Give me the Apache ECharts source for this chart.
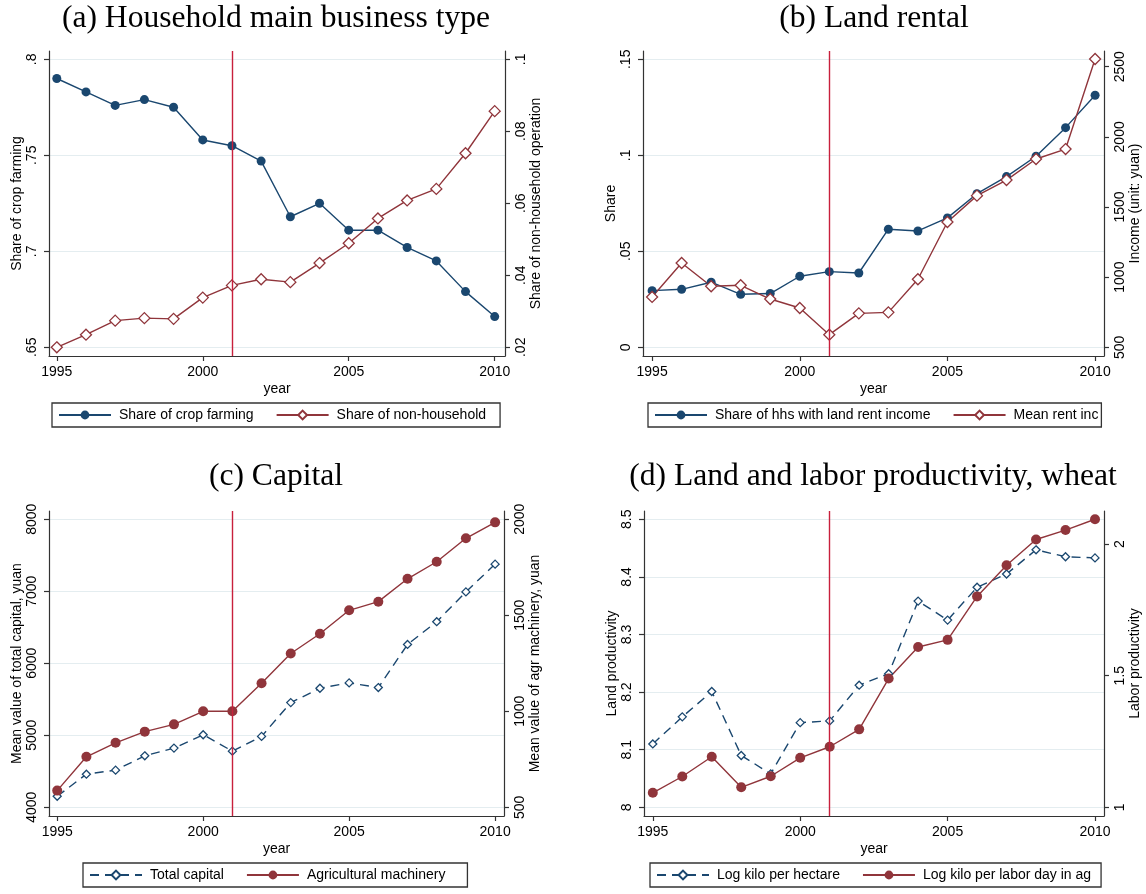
<!DOCTYPE html>
<html>
<head>
<meta charset="utf-8">
<script src="https://cdn.jsdelivr.net/npm/echarts@6/dist/echarts.min.js"></script>
<style>
  html, body { margin: 0; padding: 0; background: #fff; }
  #chart { width: 1146px; height: 894px; }
</style>
</head>
<body>
<div id="chart"></div>
<script>
// ---- data -------------------------------------------------------------
const years = [1995, 1996, 1997, 1998, 1999, 2000, 2001, 2002, 2003, 2004, 2005, 2006, 2007, 2008, 2009, 2010];
const yearTicks = [1995, 2000, 2005, 2010];
const reformYear = 2001;

// (a) household main business type
const cropFarmingShare = [0.790, 0.783, 0.776, 0.779, 0.775, 0.758, 0.755, 0.747, 0.718, 0.725, 0.711, 0.711, 0.702, 0.695, 0.679, 0.666];
const nonHouseholdShare = [0.0200, 0.0235, 0.0274, 0.0281, 0.0279, 0.0338, 0.0372, 0.0389, 0.0381, 0.0434, 0.0489, 0.0558, 0.0608, 0.0640, 0.0739, 0.0856];
const ticksCropShare = [0.65, 0.7, 0.75, 0.8];
const ticksNonHousehold = [0.02, 0.04, 0.06, 0.08, 0.1];

// (b) land rental
const landRentShare = [0.0295, 0.0302, 0.0339, 0.0276, 0.0280, 0.0370, 0.0394, 0.0387, 0.0615, 0.0606, 0.0674, 0.0800, 0.0889, 0.0995, 0.1144, 0.1313];
const meanRentIncome = [859, 1101, 935, 942, 844, 780, 590, 742, 749, 985, 1393, 1581, 1692, 1842, 1913, 2555];
const ticksRentShare = [0, 0.05, 0.1, 0.15];
const ticksRentIncome = [500, 1000, 1500, 2000, 2500];

// (c) capital
const totalCapital = [4153, 4460, 4516, 4715, 4822, 5008, 4780, 4985, 5454, 5654, 5728, 5663, 6262, 6578, 6992, 7377];
const agrMachinery = [587, 763, 836, 894, 932, 1000, 1000, 1146, 1301, 1404, 1526, 1571, 1690, 1779, 1901, 1984];
const ticksCapital = [4000, 5000, 6000, 7000, 8000];
const ticksMachinery = [500, 1000, 1500, 2000];

// (d) land and labor productivity, wheat
const logKiloPerHectare = [8.110, 8.157, 8.201, 8.090, 8.058, 8.147, 8.150, 8.212, 8.232, 8.358, 8.325, 8.382, 8.405, 8.447, 8.435, 8.433];
const logKiloPerLaborDay = [1.055, 1.117, 1.192, 1.076, 1.118, 1.188, 1.230, 1.296, 1.489, 1.609, 1.636, 1.801, 1.919, 2.017, 2.053, 2.094];
const ticksLandProd = [8, 8.1, 8.2, 8.3, 8.4, 8.5];
const ticksLaborProd = [1, 1.5, 2];

// ---- styling ----------------------------------------------------------
const NAVY = '#1a476f';
const MAROON = '#90353b';
const REFORM_RED = '#c8203c';
const GRID_LINE = '#e4edf0';
const AXIS = '#333333';
const SANS = '"Liberation Sans", Arial, sans-serif';
const SERIF = '"Liberation Serif", "Times New Roman", serif';

function pairs(ys) { return years.map((yr, i) => [yr, ys[i]]); }
function fmt(v) {
  const s = String(+Number(v).toFixed(4));
  return s.replace(/^0\./, '.').replace(/^-0\./, '-.');
}
// extend an axis range beyond its first/last tick so the ticks sit inside the frame
function padRange(lo, hi, padLoPx, padHiPx, spanPx) {
  const u = (hi - lo) / spanPx;
  return [lo - padLoPx * u, hi + padHiPx * u];
}

const grids = [
  { left: 49, top: 51, width: 456, height: 305 },
  { left: 643, top: 51, width: 461, height: 305 },
  { left: 49, top: 511, width: 455, height: 305 },
  { left: 644, top: 511, width: 460, height: 305 }
];

function xAxis(gridIndex, pxLeft, pxRight, spanPx) {
  const r = padRange(1995, 2010, pxLeft, pxRight, spanPx);
  return {
    type: 'value', gridIndex, min: r[0], max: r[1],
    name: 'year', nameLocation: 'middle', nameGap: 26,
    nameTextStyle: { fontFamily: SANS, fontSize: 14, color: '#000' },
    axisLine: { show: true, onZero: false, lineStyle: { color: AXIS, width: 1.2 } },
    axisTick: { show: true, length: 5, lineStyle: { color: AXIS, width: 1.2 }, customValues: yearTicks },
    axisLabel: { customValues: yearTicks, fontFamily: SANS, fontSize: 14, color: '#000', margin: 9,
                 formatter: v => String(Math.round(v)) },
    splitLine: { show: false }
  };
}

// pad = [pixels below first tick, pixels above last tick, pixels between first and last tick]
function yAxis(gridIndex, position, ticks, pad, name, nameGap, split, labelMargin) {
  const r = padRange(ticks[0], ticks[ticks.length - 1], pad[0], pad[1], pad[2]);
  return {
    type: 'value', gridIndex, position, min: r[0], max: r[1],
    name, nameLocation: 'middle', nameGap, nameRotate: 90,
    nameTextStyle: { fontFamily: SANS, fontSize: 14, color: '#000' },
    axisLine: { show: true, onZero: false, lineStyle: { color: AXIS, width: 1.2 } },
    axisTick: { show: true, length: 5, lineStyle: { color: AXIS, width: 1.2 }, customValues: ticks },
    axisLabel: { customValues: ticks, rotate: 90, fontFamily: SANS, fontSize: 14, color: '#000',
                 margin: labelMargin, formatter: fmt },
    splitLine: { show: split, lineStyle: { color: GRID_LINE, width: 1.2 } }
  };
}

function lineSeries(name, xi, yi, data, color, marker) {
  return {
    name, type: 'line', xAxisIndex: xi, yAxisIndex: yi, data: pairs(data),
    lineStyle: { color, width: 1.4, type: marker.dashed ? [9, 6] : 'solid' },
    symbol: marker.symbol, symbolSize: marker.size,
    itemStyle: marker.hollow ? { color: '#fff', borderColor: color, borderWidth: 1.3 } : { color, borderColor: color, borderWidth: 0 },
    emphasis: { disabled: true },
    clip: false,
    z: 3
  };
}

function reformLine(s) {
  s.markLine = {
    silent: true, symbol: ['none', 'none'], label: { show: false },
    lineStyle: { color: REFORM_RED, width: 1.4, type: 'solid' },
    data: [{ xAxis: reformYear }]
  };
  return s;
}

const circle = { symbol: 'circle', size: 9 };
const bigCircle = { symbol: 'circle', size: 10 };
const diamond = { symbol: 'diamond', size: 11, hollow: true };
const smallDiamondDashed = { symbol: 'diamond', size: 8, hollow: true, dashed: true };

function legend(left, top, rightPad, names) {
  return {
    left, top, data: names,
    orient: 'horizontal', itemWidth: 52, itemHeight: 11, itemGap: 22,
    padding: [5, rightPad, 5, 6], borderColor: AXIS, borderWidth: 1.3, backgroundColor: '#fff',
    textStyle: { fontFamily: SANS, fontSize: 14, color: '#000', padding: [0, 0, 0, 3] },
    selectedMode: false
  };
}

const TITLE_FONT = '31.6px ' + SERIF;
function title(text, x, y) {
  return { type: 'text', x, y, silent: true,
           style: { text, font: TITLE_FONT, fill: '#000', align: 'center', verticalAlign: 'middle' } };
}

const option = {
  animation: false,
  backgroundColor: '#fff',
  grid: grids.map(g => Object.assign({ containLabel: false, show: false }, g)),
  xAxis: [
    xAxis(0, 7.8, 10.3, 437.9),
    xAxis(1, 9.1, 8.9, 443),
    xAxis(2, 8.2, 8.9, 437.9),
    xAxis(3, 8.8, 9.0, 442.2)
  ],
  yAxis: [
    yAxis(0, 'left', ticksCropShare, [8.7, 8.3, 288], 'Share of crop farming', 23, true, 10),
    yAxis(0, 'right', ticksNonHousehold, [8.7, 8.3, 288], 'Share of non-household operation', 24, false, 9),
    yAxis(1, 'left', ticksRentShare, [8.7, 8.3, 288], 'Share', 21, true, 10),
    yAxis(1, 'right', ticksRentIncome, [8.7, 15.7, 280.6], 'Income (unit: yuan)', 24, false, 9),
    yAxis(2, 'left', ticksCapital, [8.7, 8.3, 288], 'Mean value of total capital, yuan', 23, true, 10),
    yAxis(2, 'right', ticksMachinery, [8.7, 8.3, 288], 'Mean value of agr machinery, yuan', 23, false, 9),
    yAxis(3, 'left', ticksLandProd, [8.7, 8.3, 288], 'Land productivity', 21, true, 10),
    yAxis(3, 'right', ticksLaborProd, [8.7, 33, 263.3], 'Labor productivity', 24, false, 9)
  ],
  legend: [
    legend(52, 403, 14, ['Share of crop farming', 'Share of non-household']),
    legend(648, 403, 3, ['Share of hhs with land rent income', 'Mean rent inc']),
    legend(83, 863, 22, ['Total capital', 'Agricultural machinery']),
    legend(650, 863, 10, ['Log kilo per hectare', 'Log kilo per labor day in ag'])
  ],
  graphic: [
    title('(a) Household main business type', 276, 19),
    title('(b) Land rental', 874, 19),
    title('(c) Capital', 276, 477),
    title('(d) Land and labor productivity, wheat', 873, 477)
  ],
  series: [
    reformLine(lineSeries('Share of crop farming', 0, 0, cropFarmingShare, NAVY, circle)),
    lineSeries('Share of non-household', 0, 1, nonHouseholdShare, MAROON, diamond),

    reformLine(lineSeries('Share of hhs with land rent income', 1, 2, landRentShare, NAVY, circle)),
    lineSeries('Mean rent inc', 1, 3, meanRentIncome, MAROON, diamond),

    reformLine(lineSeries('Total capital', 2, 4, totalCapital, NAVY, smallDiamondDashed)),
    lineSeries('Agricultural machinery', 2, 5, agrMachinery, MAROON, bigCircle),

    reformLine(lineSeries('Log kilo per hectare', 3, 6, logKiloPerHectare, NAVY, smallDiamondDashed)),
    lineSeries('Log kilo per labor day in ag', 3, 7, logKiloPerLaborDay, MAROON, bigCircle)
  ]
};

const chart = echarts.init(document.getElementById('chart'), null, { renderer: 'canvas' });
chart.setOption(option);
</script>
</body>
</html>
